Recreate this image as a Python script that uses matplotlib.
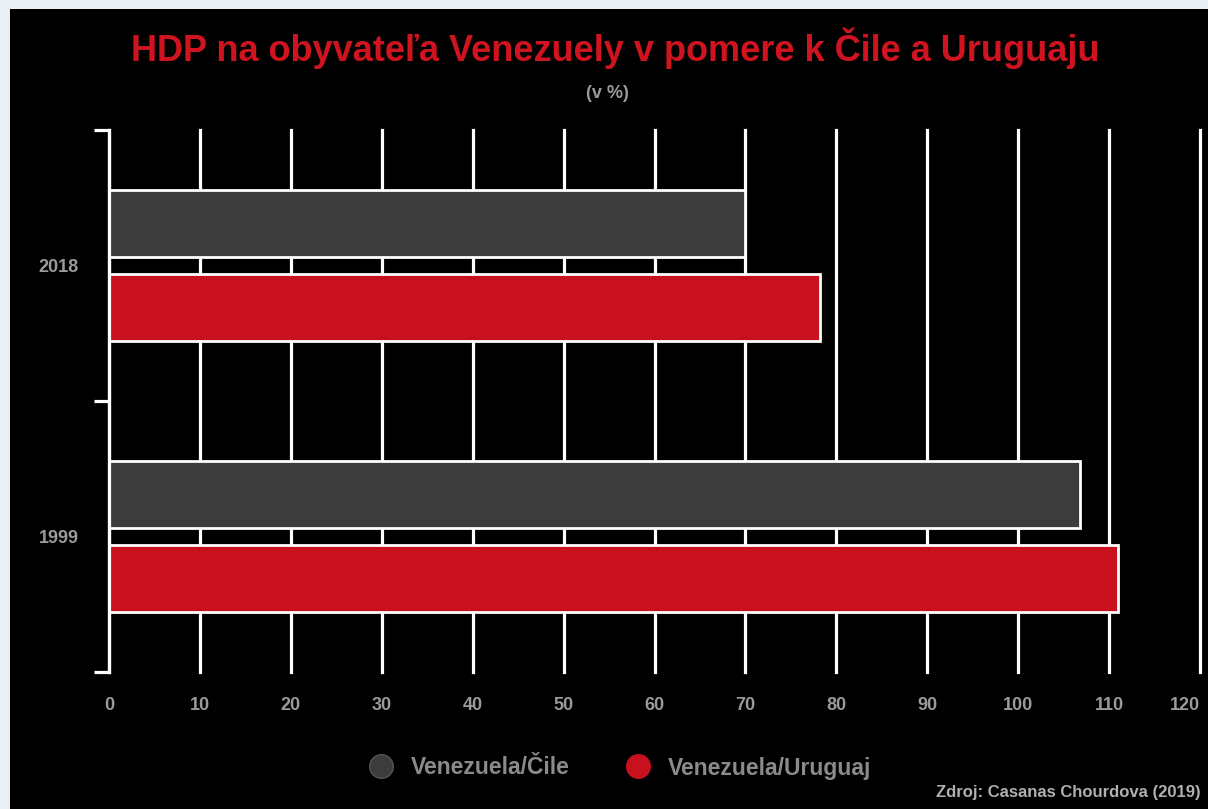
import numpy as np
import matplotlib.pyplot as plt
from matplotlib.patches import Rectangle
from matplotlib.lines import Line2D

# data
years = ["1999", "2018"]
vs_chile = [106.8, 70.0]
vs_uruguay = [111.0, 78.2]
series_names = ["Venezuela/Čile", "Venezuela/Uruguaj"]
x_ticks = list(range(0, 130, 10))

plt.rcParams['font.family'] = ['Liberation Sans', 'DejaVu Sans']

GRAY = '#3c3c3c'
RED = '#c8101e'
TXT = '#9a9a9a'

fig = plt.figure(figsize=(12.08, 8.09), dpi=100, facecolor='#e9eff5')
# black panel
fig.patches.append(Rectangle((10/1208, 0), 1, 800/809, transform=fig.transFigure,
                             facecolor='black', edgecolor='none', zorder=-1))

ax = fig.add_axes([109/1208, 137/809, 1091/1208, 542/809])
ax.set_facecolor('black')
ax.set_zorder(2)

y = np.arange(len(years))  # 1999 bottom, 2018 top
h = 0.25
off = 0.155
ax.barh(y + off, vs_chile, height=h, color=GRAY, edgecolor='white', linewidth=2, zorder=3)
ax.barh(y - off, vs_uruguay, height=h, color=RED, edgecolor='white', linewidth=2, zorder=3)

ax.set_xlim(0, 120)
ax.set_ylim(-0.5, 1.5)

ax.set_xticks(x_ticks)
ax.set_xticklabels([str(t) for t in x_ticks], color=TXT, fontsize=13, fontweight='bold')
ax.get_xticklabels()[-1].set_horizontalalignment('right')
ax.tick_params(axis='x', length=0, pad=18)
for t in x_ticks:
    ax.axvline(t, color='white', linewidth=2.3, zorder=1, clip_on=False)

ax.set_yticks([-0.5, 0.5, 1.5])
ax.set_yticklabels([])
ax.set_yticks(y, minor=True)
ax.set_yticklabels(years, minor=True, color=TXT, fontsize=13, fontweight='bold')
ax.tick_params(axis='y', which='major', length=11, width=2.3, color='white', direction='out')
ax.tick_params(axis='y', which='minor', length=0, pad=22)

for s in ['top', 'right', 'bottom']:
    ax.spines[s].set_visible(False)
ax.spines['left'].set_color('white')
ax.spines['left'].set_linewidth(2.3)
ax.spines['left'].set_zorder(4)

fig.text(0.509, 1 - 48/809, "HDP na obyvateľa Venezuely v pomere k Čile a Uruguaju",
         color='#d0141f', fontsize=26, fontweight='bold', ha='center', va='center')
fig.text(0.503, 1 - 93/809, "(v %)", color=TXT, fontsize=13, fontweight='bold',
         ha='center', va='center')

# legend
handles = [Line2D([], [], marker='o', linestyle='', markersize=17, markerfacecolor=GRAY,
                  markeredgecolor='#555555'),
           Line2D([], [], marker='o', linestyle='', markersize=17, markerfacecolor=RED,
                  markeredgecolor=RED)]
leg = fig.legend(handles, series_names, loc='center', bbox_to_anchor=(0.509, 1 - 768/809),
                 ncol=2, frameon=False, fontsize=16.5, handletextpad=0.3, columnspacing=2.0)
for t in leg.get_texts():
    t.set_color('#8a8a8a')
    t.set_fontweight('bold')

fig.text(0.994, 1 - 793/809, "Zdroj: Casanas Chourdova (2019)", color='#b0b0b0',
         fontsize=12, fontweight='bold', ha='right', va='center')

fig.savefig("out.png", dpi=100, facecolor=fig.get_facecolor())
